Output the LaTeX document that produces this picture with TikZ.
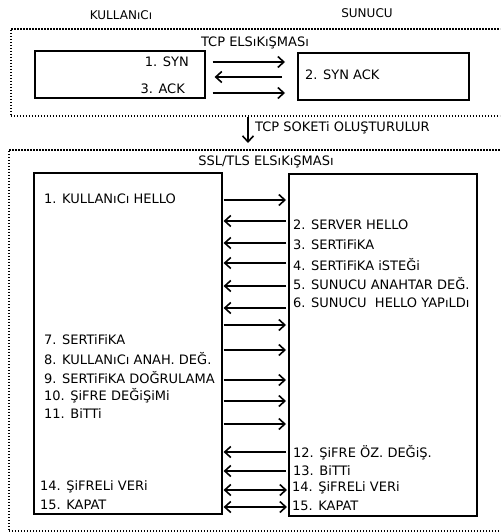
\documentclass[tikz,border=0pt]{standalone}
\usepackage{fontspec}
\setmainfont{DejaVu Sans}
\usepackage{tikz}
\usetikzlibrary{arrows.meta}

\begin{document}
\begin{tikzpicture}[x=1pt,y=-1pt,
  box/.style={draw, line width=1.6pt, anchor=north west, inner sep=0pt},
  frame/.style={draw, line width=1.6pt, dash pattern=on 1.5pt off 1.5pt,
                anchor=north west, inner sep=0pt},
  lbl/.style={font=\fontsize{13}{15}\selectfont, inner sep=0pt},
  ttl/.style={font=\fontsize{12}{14}\selectfont, inner sep=0pt},
  arr/.style={line width=1.6pt, -{Straight Barb[length=6pt,width=11pt]}},
  fw/.style={arr, shorten <=1pt, shorten >=2pt},
  bw/.style={arr, shorten <=2pt, shorten >=1pt},
  bi/.style={arr, {Straight Barb[length=6pt,width=11pt]}-{Straight Barb[length=6pt,width=11pt]},
             shorten <=1pt, shorten >=1pt}
]
\useasboundingbox (0,0) rectangle (500,532);
\clip (0,0) rectangle (500,532);

% column titles
\node[ttl] (kul) at (121,15) {KULLANıCı};
\node[ttl] (sun) at (367,13) {SUNUCU};

% TCP handshake
\node[frame, minimum width=520pt, minimum height=87pt] (tcpf) at (10,28) {};
\node[lbl] (tcpt) at (255,43) {TCP ELSıKıŞMASı};
\node[box, minimum width=170pt, minimum height=47pt] (tcpk) at (34,50) {};
\node[box, minimum width=171pt, minimum height=47pt] (tcps) at (297,52) {};
\node[lbl, anchor=east] (syn) at (189,62) {1. SYN};
\node[lbl, anchor=east] (ack) at (185,89) {3. ACK};
\node[lbl, anchor=west] (synack) at (305,75) {2. SYN ACK};
\coordinate (c1) at (0,62);
\coordinate (c2) at (0,77);
\coordinate (c3) at (0,93);
\draw[arr, shorten <=7pt, shorten >=12pt] (tcpk.east |- c1) -- (tcps.west |- c1);
\draw[arr, shorten <=15pt, shorten >=9pt] (tcps.west |- c2) -- (tcpk.east |- c2);
\draw[arr, shorten <=7pt, shorten >=12pt] (tcpk.east |- c3) -- (tcps.west |- c3);

% socket
\coordinate (dn) at (248,0);
\node[lbl, anchor=west] (sock) at (255,128) {TCP SOKETi OLUŞTURULUR};

% SSL/TLS handshake
\node[frame, minimum width=520pt, minimum height=381pt] (sslf) at (8,149) {};
\draw[arr, shorten >=6pt] (tcpf.south -| dn) -- (sslf.north -| dn);
\node[lbl] (sslt) at (266,162) {SSL/TLS ELSıKıŞMASı};
\node[box, minimum width=188pt, minimum height=341pt] (sslk) at (33,172) {};
\node[box, minimum width=188pt, minimum height=342pt] (ssls) at (288,173) {};

\node[lbl, anchor=west] (k1)  at (44,199) {1. KULLANıCı HELLO};
\node[lbl, anchor=west] (k7)  at (44,340) {7. SERTiFiKA};
\node[lbl, anchor=west] (k8)  at (44,359) {8. KULLANıCı ANAH. DEĞ.};
\node[lbl, anchor=west] (k9)  at (44,378) {9. SERTiFiKA DOĞRULAMA};
\node[lbl, anchor=west] (k10) at (44,396) {10. ŞiFRE DEĞiŞiMi};
\node[lbl, anchor=west] (k11) at (44,414) {11. BiTTi};
\node[lbl, anchor=west] (k14) at (40,487) {14. ŞiFRELi VERi};
\node[lbl, anchor=west] (k15) at (40,505) {15. KAPAT};

\node[lbl, anchor=west] (s2)  at (293,225) {2. SERVER HELLO};
\node[lbl, anchor=west] (s3)  at (293,245) {3. SERTiFiKA};
\node[lbl, anchor=west] (s4)  at (293,265) {4. SERTiFiKA iSTEĞi};
\node[lbl, anchor=west] (s5)  at (293,284) {5. SUNUCU ANAHTAR DEĞ.};
\node[lbl, anchor=west] (s6)  at (293,303) {6. SUNUCU\ \ HELLO YAPıLDı};
\node[lbl, anchor=west] (s12) at (293,453) {12. ŞiFRE ÖZ. DEĞiŞ.};
\node[lbl, anchor=west] (s13) at (293,471) {13. BiTTi};
\node[lbl, anchor=west] (s14) at (292,488) {14. ŞiFRELi VERi};
\node[lbl, anchor=west] (s15) at (292,506) {15. KAPAT};

% messages between client and server
\foreach \n/\y in {1/200, 2/221, 3/243, 4/263, 5/286, 6/308, 7/325, 8/350,
    9/380, 10/401, 11/424, 12/452, 13/471, 14/490, 15/507}
  \coordinate (m\n) at (0,\y);
\foreach \n in {1,7,8,9,10,11}
  \draw[fw] (sslk.east |- m\n) -- (ssls.west |- m\n);
\foreach \n in {2,3,4,5,6,12,13}
  \draw[bw] (ssls.west |- m\n) -- (sslk.east |- m\n);
\foreach \n in {14,15}
  \draw[bi] (sslk.east |- m\n) -- (ssls.west |- m\n);
\end{tikzpicture}
\end{document}
